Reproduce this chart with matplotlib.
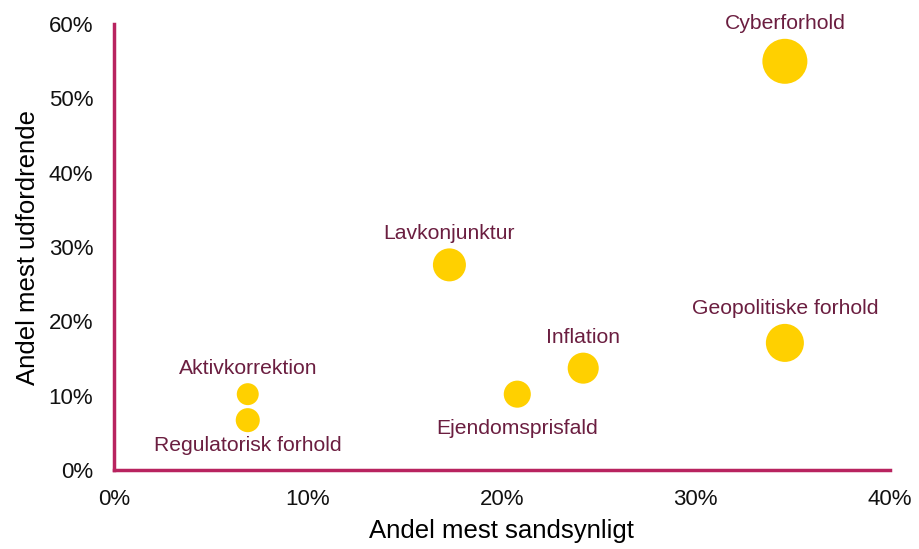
import matplotlib
matplotlib.use("Agg")
import matplotlib.pyplot as plt
from matplotlib.ticker import PercentFormatter

plt.rcParams["font.family"] = ["Liberation Sans", "DejaVu Sans"]

# --- Data ---
labels = ["Cyberforhold", "Geopolitiske forhold", "Lavkonjunktur", "Inflation",
          "Ejendomsprisfald", "Aktivkorrektion", "Regulatorisk forhold"]
sandsynligt = [34.6, 34.6, 17.3, 24.2, 20.8, 6.9, 6.9]    # x, %
udfordrende = [55.0, 17.1, 27.6, 13.7, 10.2, 10.2, 6.7]    # y, %
bubble = [1050, 750, 565, 500, 380, 250, 300]
label_below = ["Ejendomsprisfald", "Regulatorisk forhold"]

YELLOW = "#FFD000"
MAROON = "#6B1E40"
SPINE = "#B8235F"

fig = plt.figure(figsize=(9.19, 5.49), dpi=100, facecolor="white")
ax = fig.add_axes([0.124, 0.144, 0.844, 0.812])

ax.scatter(sandsynligt, udfordrende, s=bubble, color=YELLOW, edgecolors="none", zorder=3)

for lab, x, y, s in zip(labels, sandsynligt, udfordrende, bubble):
    r = (s ** 0.5) / 2
    if lab in label_below:
        ax.annotate(lab, (x, y), xytext=(0, -(r + 8 if lab == "Ejendomsprisfald" else r + 3)),
                    textcoords="offset points",
                    ha="center", va="top", fontsize=15.2, color=MAROON)
    else:
        ax.annotate(lab, (x, y), xytext=(0, r + 4), textcoords="offset points",
                    ha="center", va="bottom", fontsize=15.2, color=MAROON)

ax.set_xlim(0, 40)
ax.set_ylim(0, 60)
ax.set_xticks([0, 10, 20, 30, 40])
ax.set_yticks([0, 10, 20, 30, 40, 50, 60])
ax.xaxis.set_major_formatter(PercentFormatter(decimals=0))
ax.yaxis.set_major_formatter(PercentFormatter(decimals=0))
ax.tick_params(length=0, labelsize=16, colors="#111111")
ax.tick_params(axis="y", pad=15)
ax.tick_params(axis="x", pad=14)

for side in ["top", "right"]:
    ax.spines[side].set_visible(False)
for side in ["left", "bottom"]:
    ax.spines[side].set_color(SPINE)
    ax.spines[side].set_linewidth(2.5)

ax.set_xlabel("Andel mest sandsynligt", fontsize=18.5, labelpad=6)
ax.set_ylabel("Andel mest udfordrende", fontsize=18.5, labelpad=6)

fig.savefig("out.png", dpi=100)
